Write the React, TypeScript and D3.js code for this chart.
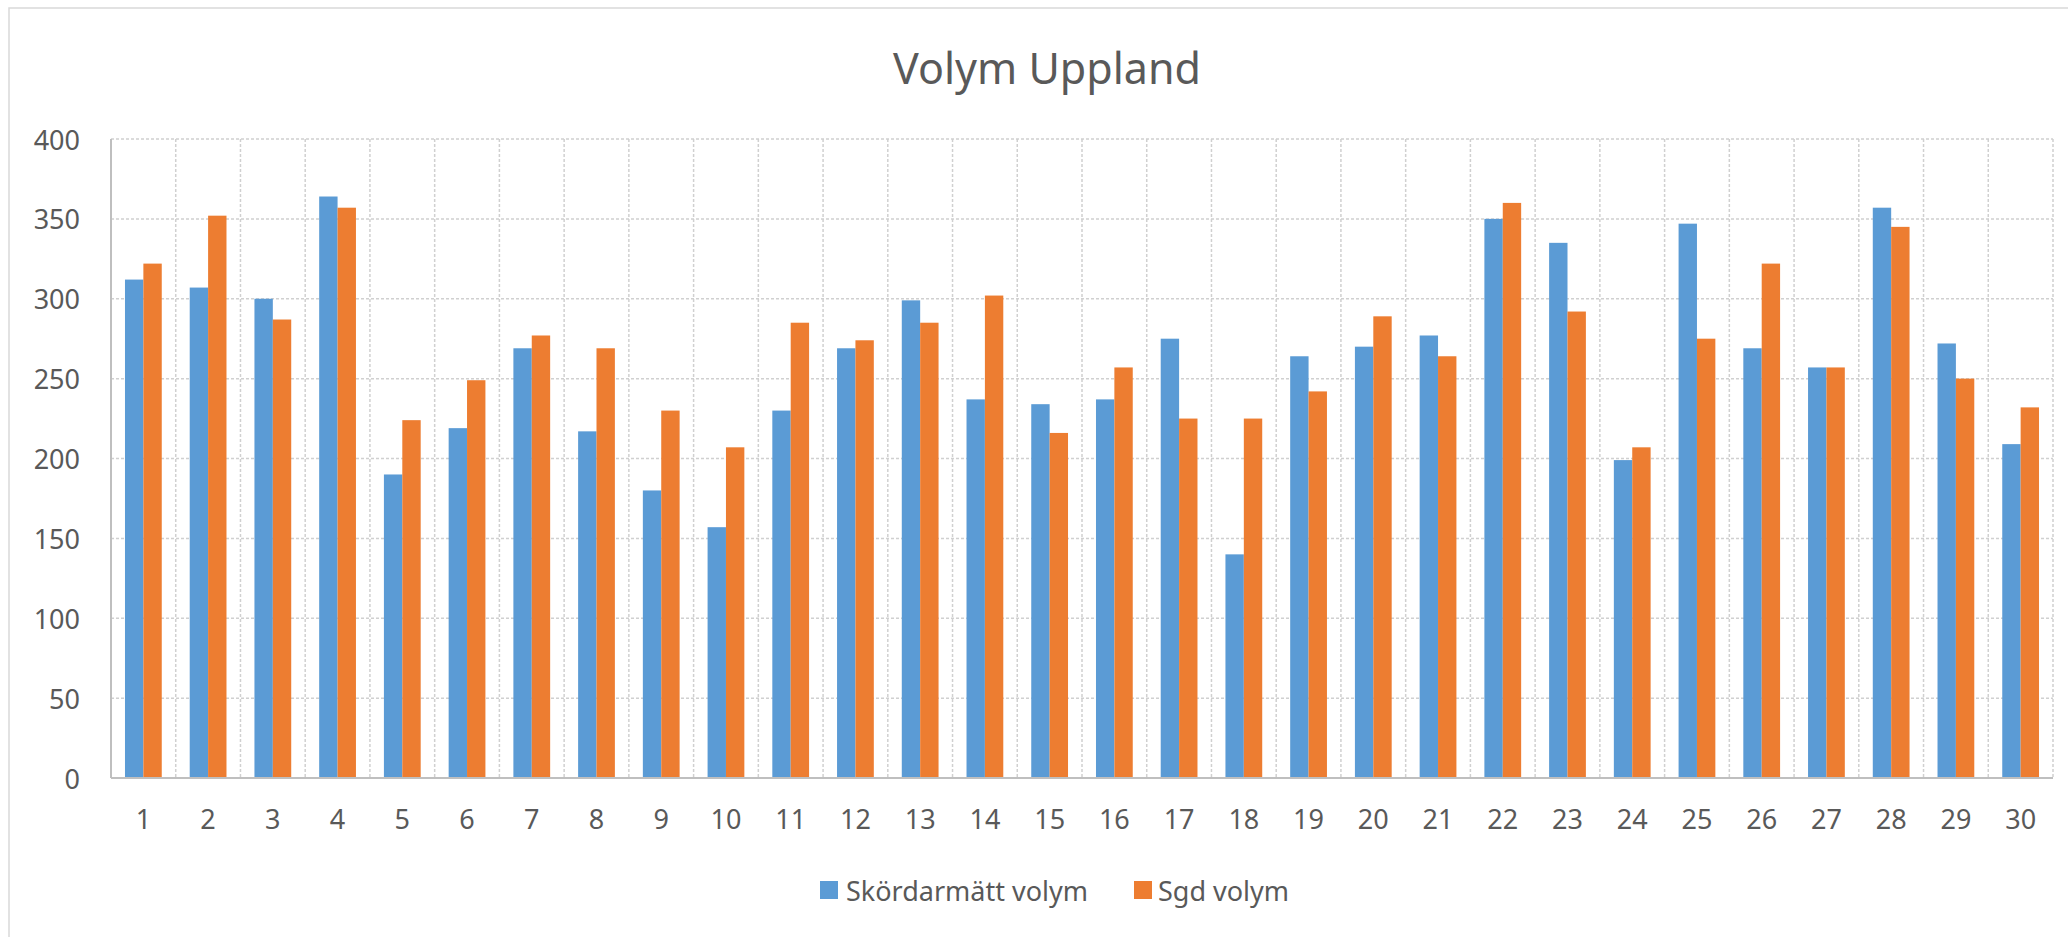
import React from "react";
import * as d3 from "d3";

// chart data
const categories = d3.range(1, 31).map(String);
const skordarVolym = [312, 307, 300, 364, 190, 219, 269, 217, 180, 157, 230, 269, 299, 237, 234, 237, 275, 140, 264, 270, 277, 350, 335, 199, 347, 269, 257, 357, 272, 209];
const sgdVolym = [322, 352, 287, 357, 224, 249, 277, 269, 230, 207, 285, 274, 285, 302, 216, 257, 225, 225, 242, 289, 264, 360, 292, 207, 275, 322, 257, 345, 250, 232];
const seriesNames = ["Skördarmätt volym", "Sgd volym"];
const colors = ["#5B9BD5", "#ED7D31"];
const yTicks = [0, 50, 100, 150, 200, 250, 300, 350, 400];

const width = 2068;
const height = 937;
const font = "'Noto Sans', sans-serif";
const textColor = "#595959";

export default function App() {
  const margins = { left: 111, right: 15, top: 139, bottom: 159 };
  const x0 = d3.scaleBand().domain(categories).range([margins.left, width - margins.right]).padding(0);
  const bw = x0.bandwidth();
  const gap = bw * 0.216;
  const x1 = d3.scaleBand().domain(seriesNames).range([gap, bw - gap]).padding(0);
  const y = d3.scaleLinear().domain([0, 400]).range([height - margins.bottom, margins.top]);

  const series = [skordarVolym, sgdVolym];
  const plotRight = width - margins.right;
  const plotBottom = y(0);

  return (
    <svg width={width} height={height} style={{ position: "absolute", left: 0, top: 0, background: "#fff" }}>
      <rect x={0} y={0} width={width} height={height} fill="#fff" />
      {/* chart area border */}
      <rect x={9} y={8} width={width + 20} height={height + 20} fill="none" stroke="#D9D9D9" strokeWidth={1.5} />

      <text x={1047} y={67} textAnchor="middle" dominantBaseline="central" fontFamily={font} fontSize={43} fill={textColor}>
        Volym Uppland
      </text>

      {/* horizontal gridlines */}
      {yTicks.filter((t) => t > 0).map((t) => (
        <line key={"h" + t} x1={margins.left} x2={plotRight} y1={y(t)} y2={y(t)} stroke="#D0D0D0" strokeWidth={1.5} strokeDasharray="3,2" />
      ))}
      {/* vertical gridlines at category edges */}
      {categories.slice(1).map((c) => (
        <line key={"v" + c} x1={x0(c)} x2={x0(c)} y1={margins.top} y2={plotBottom} stroke="#D0D0D0" strokeWidth={1.5} strokeDasharray="3,2" />
      ))}
      <line x1={plotRight} x2={plotRight} y1={margins.top} y2={plotBottom} stroke="#D0D0D0" strokeWidth={1.5} strokeDasharray="3,2" />

      {/* bars */}
      {series.map((vals, si) =>
        vals.map((v, i) => (
          <rect
            key={si + "-" + i}
            x={(x0(categories[i]) as number) + (x1(seriesNames[si]) as number)}
            y={y(v)}
            width={x1.bandwidth()}
            height={plotBottom - y(v)}
            fill={colors[si]}
          />
        ))
      )}

      {/* axes */}
      <line x1={margins.left} x2={margins.left} y1={margins.top} y2={plotBottom} stroke="#BFBFBF" strokeWidth={2} />
      <line x1={margins.left} x2={plotRight} y1={plotBottom} y2={plotBottom} stroke="#BFBFBF" strokeWidth={2} />

      {yTicks.map((t) => (
        <text key={"yt" + t} x={80} y={y(t)} textAnchor="end" dominantBaseline="central" fontFamily={font} fontSize={27} fill={textColor}>
          {t}
        </text>
      ))}
      {categories.map((c) => (
        <text key={"xt" + c} x={(x0(c) as number) + bw / 2} y={818} textAnchor="middle" dominantBaseline="central" fontFamily={font} fontSize={27} fill={textColor}>
          {c}
        </text>
      ))}

      {/* legend */}
      <rect x={820} y={881} width={18} height={18} fill={colors[0]} />
      <text x={846} y={890} dominantBaseline="central" fontFamily={font} fontSize={27} fill={textColor}>
        {seriesNames[0]}
      </text>
      <rect x={1134} y={881} width={18} height={18} fill={colors[1]} />
      <text x={1158} y={890} dominantBaseline="central" fontFamily={font} fontSize={27} fill={textColor}>
        {seriesNames[1]}
      </text>
    </svg>
  );
}
